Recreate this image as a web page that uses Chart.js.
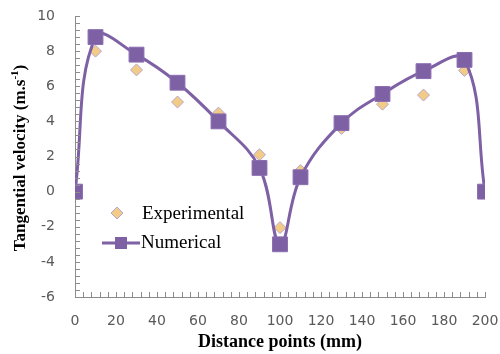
<!DOCTYPE html>
<html>
<head>
<meta charset="utf-8">
<script src="https://cdn.jsdelivr.net/npm/chart.js@4.4.1/dist/chart.umd.min.js"></script>
<style>
  html, body { margin: 0; padding: 0; background: #fff; }
  #wrap { width: 500px; height: 354px; }
</style>
</head>
<body>
<div id="wrap"><canvas id="velocityChart"></canvas></div>
<script>
// distance points along the profile (mm)
const numDistance = [0, 10, 30, 50, 70, 90, 100, 110, 130, 150, 170, 190, 200];
const numVelocity = [0, 8.8, 7.8, 6.2, 4.0, 1.35, -3.0, 0.82, 3.9, 5.56, 6.86, 7.5, 0];

const expDistance = [10, 30, 50, 70, 90, 100, 110, 130, 150, 170, 190];
const expVelocity = [8.0, 6.93, 5.1, 4.47, 2.1, -2.05, 1.2, 3.6, 4.98, 5.5, 6.9];

const xTicks = [0, 20, 40, 60, 80, 100, 120, 140, 160, 180, 200];
const yTicks = [-6, -4, -2, 0, 2, 4, 6, 8, 10];

const purple = '#7E60A4';
const tan = '#F2CB86';
const lavender = '#B7A6D2';
const axisGrey = '#8C8C8C';

function toPoints(xs, ys) {
    return xs.map((x, i) => ({ x: x, y: ys[i] }));
}

// small inside tick marks, axis titles and the legend box
const decorPlugin = {
    id: 'decor',
    afterDraw(chart) {
        const ctx = chart.ctx;
        const xs = chart.scales.x;
        const ys = chart.scales.y;
        const area = chart.chartArea;

        ctx.save();
        ctx.strokeStyle = axisGrey;
        ctx.lineWidth = 1;
        ctx.beginPath();
        for (let v = ys.min; v <= ys.max + 0.001; v += 0.4) {
            const py = Math.round(ys.getPixelForValue(v)) + 0.5;
            ctx.moveTo(area.left, py);
            ctx.lineTo(area.left + 5, py);
        }
        for (let v = xs.min; v <= xs.max + 0.001; v += 4) {
            const px = Math.round(xs.getPixelForValue(v)) + 0.5;
            ctx.moveTo(px, area.bottom);
            ctx.lineTo(px, area.bottom - 5);
        }
        ctx.stroke();

        // x axis title
        ctx.fillStyle = '#000';
        ctx.font = 'bold 18px "Liberation Serif", serif';
        ctx.textAlign = 'center';
        ctx.textBaseline = 'middle';
        ctx.fillText('Distance points (mm)', (area.left + area.right) / 2, 342);

        // y axis title with superscript
        ctx.translate(21, 158);
        ctx.rotate(-Math.PI / 2);
        const main = 'Tangential velocity (m.s';
        const sup = '-1';
        const tail = ')';
        ctx.font = 'bold 17px "Liberation Serif", serif';
        const wMain = ctx.measureText(main).width;
        const wTail = ctx.measureText(tail).width;
        ctx.font = 'bold 11px "Liberation Serif", serif';
        const wSup = ctx.measureText(sup).width;
        let start = -(wMain + wSup + wTail) / 2;
        ctx.textAlign = 'left';
        ctx.font = 'bold 17px "Liberation Serif", serif';
        ctx.fillText(main, start, 0);
        ctx.font = 'bold 11px "Liberation Serif", serif';
        ctx.fillText(sup, start + wMain, -6);
        ctx.font = 'bold 17px "Liberation Serif", serif';
        ctx.fillText(tail, start + wMain + wSup, 0);
        ctx.restore();

        // legend
        ctx.save();
        ctx.beginPath();
        ctx.moveTo(117, 207);
        ctx.lineTo(123, 213);
        ctx.lineTo(117, 219);
        ctx.lineTo(111, 213);
        ctx.closePath();
        ctx.fillStyle = tan;
        ctx.fill();
        ctx.strokeStyle = lavender;
        ctx.lineWidth = 1;
        ctx.stroke();

        ctx.strokeStyle = purple;
        ctx.lineWidth = 3;
        ctx.beginPath();
        ctx.moveTo(102, 243);
        ctx.lineTo(140, 243);
        ctx.stroke();
        ctx.fillStyle = purple;
        ctx.fillRect(115, 237, 12, 12);

        ctx.fillStyle = '#000';
        ctx.font = '19px "Liberation Serif", serif';
        ctx.textAlign = 'left';
        ctx.textBaseline = 'middle';
        ctx.fillText('Experimental', 142, 214);
        ctx.fillText('Numerical', 141, 243);
        ctx.restore();
    }
};

function createVelocityChart() {
    const ctx = document.getElementById('velocityChart').getContext('2d');
    new Chart(ctx, {
        type: 'scatter',
        data: {
            datasets: [{
                label: 'Numerical',
                data: toPoints(numDistance, numVelocity),
                showLine: true,
                tension: 0.4,
                borderColor: purple,
                borderWidth: 3,
                pointStyle: 'rect',
                pointRadius: 10.5,
                pointBackgroundColor: purple,
                pointBorderColor: '#8A6EB0',
                pointBorderWidth: 1,
                order: 0
            }, {
                label: 'Experimental',
                data: toPoints(expDistance, expVelocity),
                showLine: false,
                pointStyle: 'rectRot',
                pointRadius: 6,
                pointBackgroundColor: tan,
                pointBorderColor: lavender,
                pointBorderWidth: 1,
                order: 1
            }]
        },
        options: {
            responsive: true,
            maintainAspectRatio: false,
            animation: false,
            layout: { padding: { left: 0, top: 16, right: 15, bottom: 0 } },
            plugins: {
                legend: { display: false },
                tooltip: { enabled: false }
            },
            scales: {
                x: {
                    type: 'linear',
                    min: 0,
                    max: 200,
                    afterBuildTicks: scale => { scale.ticks = xTicks.map(v => ({ value: v })); },
                    afterFit: scale => { scale.height = 57; },
                    grid: { display: true, drawOnChartArea: false, drawTicks: true, tickLength: 16, color: 'rgba(0,0,0,0)' },
                    border: { display: true, color: axisGrey, width: 1 },
                    ticks: {
                        padding: 0,
                        color: '#595959',
                        font: { family: '"DejaVu Sans", sans-serif', size: 14 }
                    }
                },
                y: {
                    type: 'linear',
                    min: -6,
                    max: 10,
                    afterBuildTicks: scale => { scale.ticks = yTicks.map(v => ({ value: v })); },
                    afterFit: scale => { scale.width = 75; },
                    grid: { display: true, drawOnChartArea: false, drawTicks: true, tickLength: 20, color: 'rgba(0,0,0,0)' },
                    border: { display: true, color: axisGrey, width: 1 },
                    ticks: {
                        padding: 0,
                        color: '#595959',
                        font: { family: '"DejaVu Sans", sans-serif', size: 14 }
                    }
                }
            }
        },
        plugins: [decorPlugin]
    });
}

window.onload = function() {
    createVelocityChart();
};
</script>
</body>
</html>
